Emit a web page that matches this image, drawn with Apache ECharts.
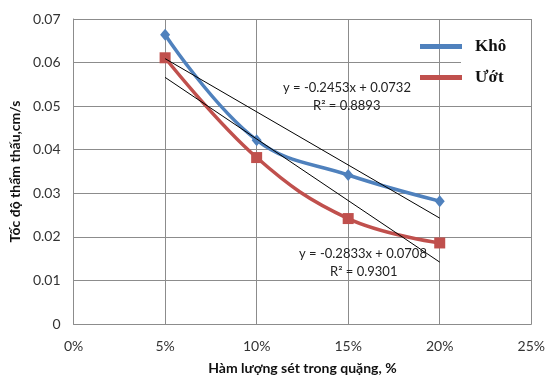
<!DOCTYPE html>
<html><head><meta charset="utf-8">
<script src="https://cdn.jsdelivr.net/npm/echarts@6/dist/echarts.min.js"></script>
<style>html,body{margin:0;padding:0;background:#fff}#c{width:548px;height:380px}</style>
</head><body><div id="c"></div>
<script>
var xValues = [5, 10, 15, 20];
var khoValues = [0.0664, 0.0422, 0.0342, 0.0282];
var uotValues = [0.0611, 0.0382, 0.0242, 0.0186];
var trendX = [5, 20];
var trendKho = [0.0609, 0.0243];
var trendUot = [0.0566, 0.0142];
var seriesNames = ['Kh\u00f4', '\u01af\u1edbt'];
var eqKho = ['y = -0.2453x + 0.0732', 'R\u00b2 = 0.8893'];
var eqUot = ['y = -0.2833x + 0.0708', 'R\u00b2 = 0.9301'];

function pairs(xs, ys){ return xs.map(function(x,i){ return [x, ys[i]]; }); }

var chart = echarts.init(document.getElementById('c'));
var gridColor = '#8c8c8c';
var sans = 'Lato';
chart.setOption({
  animation: false,
  grid: {left: 70, right: 14, top: 19, bottom: 52.5},
  xAxis: {
    type: 'value', min: 0, max: 25, interval: 5,
    axisLine: {show: true, lineStyle: {color: gridColor}},
    axisTick: {show: false},
    splitLine: {show: true, lineStyle: {color: gridColor}},
    axisLabel: {formatter: '{value}%', color: '#333', fontSize: 14, fontFamily: sans, margin: 15},
    name: 'H\u00e0m l\u01b0\u1ee3ng s\u00e9t trong qu\u1eb7ng, %', nameLocation: 'middle', nameGap: 37,
    nameTextStyle: {fontWeight: 'bold', fontSize: 14, color: '#111', fontFamily: sans}
  },
  yAxis: {
    type: 'value', min: 0, max: 0.07, interval: 0.01,
    axisLine: {show: true, lineStyle: {color: gridColor}},
    axisTick: {show: false},
    splitLine: {show: true, lineStyle: {color: gridColor}},
    axisLabel: {formatter: function(v){ return v === 0 ? '0' : v.toFixed(2); }, color: '#333', fontSize: 14, fontFamily: sans, margin: 13},
    name: 'T\u1ed1c \u0111\u1ed9 th\u1ea9m th\u1ea5u,cm/s', nameLocation: 'middle', nameGap: 45,
    nameTextStyle: {fontWeight: 'bold', fontSize: 14, color: '#111', fontFamily: sans}
  },
  legend: {
    orient: 'vertical', left: 415, top: 33, itemWidth: 42, itemHeight: 5, itemGap: 14,
    icon: 'rect',
    textStyle: {fontFamily: "'Liberation Serif', serif", fontWeight: 'bold', fontSize: 17, color: '#111', padding: [0,0,0,8]},
    data: seriesNames
  },
  graphic: [
    {type: 'rect', shape: {x: 461, y: 30, width: 70, height: 62}, style: {fill: '#fff'}, z: 1, silent: true},
    {type: 'text', left: 283, top: 81, style: {text: eqKho[0], font: '13px Lato', fill: '#222'}, z: 10},
    {type: 'text', left: 313, top: 99, style: {text: eqKho[1], font: '13px Lato', fill: '#222'}, z: 10},
    {type: 'text', left: 299, top: 247, style: {text: eqUot[0], font: '13px Lato', fill: '#222'}, z: 10},
    {type: 'text', left: 330, top: 265, style: {text: eqUot[1], font: '13px Lato', fill: '#222'}, z: 10}
  ],
  series: [
    {name: seriesNames[0], type: 'line', data: pairs(xValues, khoValues), smooth: 0.4,
     symbol: 'diamond', symbolSize: [10, 12], itemStyle: {color: '#4F81BD'},
     lineStyle: {color: '#4F81BD', width: 3.5}, z: 3},
    {name: seriesNames[1], type: 'line', data: pairs(xValues, uotValues), smooth: 0.4,
     symbol: 'rect', symbolSize: 11, itemStyle: {color: '#C0504D'},
     lineStyle: {color: '#C0504D', width: 3.5}, z: 3},
    {name: 'trendKho', type: 'line', data: pairs(trendX, trendKho), symbol: 'none',
     lineStyle: {color: '#000', width: 1}, z: 4},
    {name: 'trendUot', type: 'line', data: pairs(trendX, trendUot), symbol: 'none',
     lineStyle: {color: '#000', width: 1}, z: 4}
  ]
});
</script></body></html>
